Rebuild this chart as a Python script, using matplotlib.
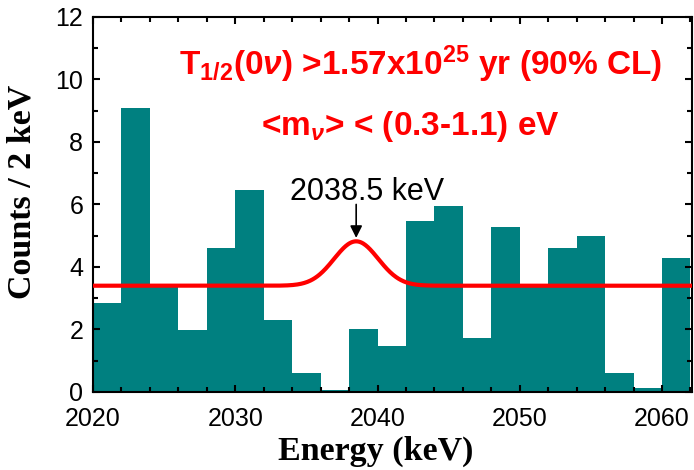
"""
Energy spectrum around the 0vbb Q-value with the fitted limit curve.
"""

import numpy as np
import matplotlib
matplotlib.use('Agg')
import matplotlib.pyplot as plt
from matplotlib.ticker import MultipleLocator

# Histogram (2 keV bins, left edges in keV)
bin_edges = [2020, 2022, 2024, 2026, 2028, 2030, 2032, 2034, 2036, 2038, 2040,
             2042, 2044, 2046, 2048, 2050, 2052, 2054, 2056, 2058, 2060]
counts = [2.86, 9.07, 3.4, 1.98, 4.6, 6.47, 2.29, 0.6, 0.05, 2.0, 1.48,
          5.48, 5.96, 1.72, 5.27, 3.4, 4.6, 5.0, 0.6, 0.12, 4.3]

# Fit curve: flat background plus gaussian peak at Q-value
bkg_level = 3.4
peak_amp = 1.42
peak_center = 2038.5
peak_sigma = 1.55

plt.rcParams['font.family'] = ['Liberation Sans', 'DejaVu Sans']
plt.rcParams['mathtext.fontset'] = 'custom'
plt.rcParams['mathtext.rm'] = 'Liberation Sans:bold'
plt.rcParams['mathtext.bf'] = 'Liberation Sans:bold'
plt.rcParams['mathtext.it'] = 'Liberation Sans:italic:bold'


def main():
    fig = plt.figure(figsize=(6.94, 4.70), dpi=100)
    ax = fig.add_axes([0.134, 0.166, 0.863, 0.798])

    ax.bar(bin_edges, counts, width=2, align='edge', color='#008080',
           edgecolor='none', zorder=1)

    e = np.linspace(2020, 2063, 800)
    fit = bkg_level + peak_amp * np.exp(-(e - peak_center) ** 2 / (2 * peak_sigma ** 2))
    ax.plot(e, fit, color='#ff0000', lw=3.0, zorder=3)

    ax.set_xlim(2020, 2062.1)
    ax.set_ylim(0, 12)

    ax.xaxis.set_major_locator(MultipleLocator(10))
    ax.xaxis.set_minor_locator(MultipleLocator(2))
    ax.yaxis.set_major_locator(MultipleLocator(2))
    ax.yaxis.set_minor_locator(MultipleLocator(1))
    ax.tick_params(which='both', direction='in', top=True, right=True,
                   width=1.5, labelsize=18)
    ax.tick_params(which='major', length=5)
    ax.tick_params(which='minor', length=3.5)
    ax.tick_params(axis='x', pad=11)
    ax.tick_params(axis='y', pad=7)
    for sp in ax.spines.values():
        sp.set_linewidth(1.5)

    ax.set_xlabel('Energy (keV)', family='Liberation Serif', fontweight='bold',
                  fontsize=24.5)
    ax.set_ylabel('Counts / 2 keV', family='Liberation Serif', fontweight='bold',
                  fontsize=24.5)
    ax.xaxis.set_label_coords(0.4716, -0.118)
    ax.yaxis.set_label_coords(-0.093, 0.534)

    # Limit text
    ax.text(2043.0, 10.13, r'T$_{1/2}$(0$\nu$) >1.57x10$^{25}$ yr (90% CL)',
            color='#ff0000', fontsize=24, fontweight='bold', ha='center',
            va='baseline', zorder=4)
    ax.text(2042.3, 8.21, r'<m$_{\nu}$> < (0.3-1.1) eV',
            color='#ff0000', fontsize=24, fontweight='bold', ha='center',
            va='baseline', zorder=4)

    # Q-value marker
    ax.text(2039.3, 6.13, '2038.5 keV', color='black', fontsize=22,
            ha='center', va='baseline', zorder=4)
    ax.annotate('', xy=(peak_center, 4.93), xytext=(peak_center, 6.0),
                arrowprops=dict(arrowstyle='-|>', color='black', lw=1.2,
                                mutation_scale=18, shrinkA=0, shrinkB=0),
                zorder=4)

    fig.savefig('out.png', dpi=100)
    plt.close(fig)


if __name__ == "__main__":
    main()
